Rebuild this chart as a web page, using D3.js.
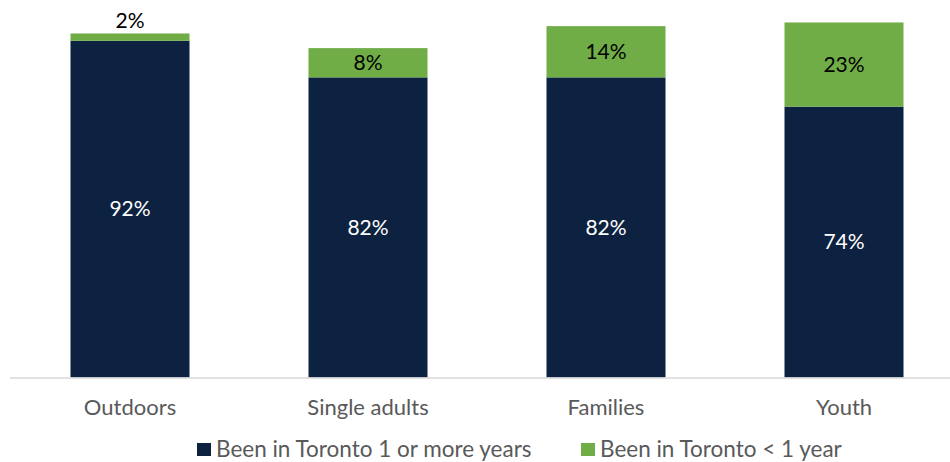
<!DOCTYPE html>
<html><head><meta charset="utf-8">
<script src="https://cdn.jsdelivr.net/npm/d3@7"></script>
<style>body{margin:0;background:#fff}svg{display:block}</style>
</head><body><svg id="c" width="950" height="462"></svg>
<script>
const categories = ["Outdoors", "Single adults", "Families", "Youth"];
const longTerm = [92, 82, 82, 74];
const shortTerm = [2, 8, 14, 23];
const seriesNames = ["Been in Toronto 1 or more years", "Been in Toronto < 1 year"];
const colors = ["#0D2240", "#70AD47"];

const svg = d3.select("#c");
const font = "Lato, 'Open Sans', sans-serif";
const x = d3.scaleBand().domain(categories).range([11, 963]).paddingInner(0.5).paddingOuter(0.25);
const y = d3.scaleLinear().domain([0, 100]).range([377.5, 11.5]);

const data = categories.map((c, i) => ({c, a: longTerm[i], b: shortTerm[i]}));

svg.selectAll("rect.a").data(data).join("rect")
  .attr("x", d => x(d.c)).attr("width", x.bandwidth())
  .attr("y", d => y(d.a)).attr("height", d => y(0) - y(d.a))
  .attr("fill", colors[0]);
svg.selectAll("rect.b").data(data).join("rect")
  .attr("x", d => x(d.c)).attr("width", x.bandwidth())
  .attr("y", d => y(d.a + d.b)).attr("height", d => y(d.a) - y(d.a + d.b))
  .attr("fill", colors[1]);

const axis = svg.append("g").attr("transform", `translate(0,${y(0)})`)
  .call(d3.axisBottom(x).tickSize(0).tickPadding(22));
axis.select(".domain").attr("stroke", "#D9D9D9").attr("stroke-width", 1.5).attr("d", "M10,0.5H950");
axis.selectAll("text").attr("font-family", font).attr("font-size", 22).attr("fill", "#595959");

svg.selectAll("text.la").data(data).join("text")
  .attr("x", d => x(d.c) + x.bandwidth() / 2)
  .attr("y", d => (y(0) + y(d.a)) / 2)
  .attr("dy", "0.35em").attr("text-anchor", "middle")
  .attr("font-family", font).attr("font-size", 21).attr("fill", "#fff")
  .text(d => d.a + "%");
svg.selectAll("text.lb").data(data).join("text")
  .attr("x", d => x(d.c) + x.bandwidth() / 2)
  .attr("y", d => (y(d.a) - y(d.a + d.b)) < 20 ? y(d.a + d.b) - 13 : (y(d.a) + y(d.a + d.b)) / 2)
  .attr("dy", "0.35em").attr("text-anchor", "middle")
  .attr("font-family", font).attr("font-size", 21).attr("fill", "#000")
  .text(d => d.b + "%");

const legX = [197, 581];
seriesNames.forEach((n, i) => {
  const g = svg.append("g").attr("transform", `translate(${legX[i]},449)`);
  g.append("rect").attr("x", 0).attr("y", -6).attr("width", 14).attr("height", 13).attr("fill", colors[i]);
  g.append("text").attr("x", 19).attr("y", 0).attr("dy", "0.35em")
    .attr("font-family", font).attr("font-size", 22.5).attr("fill", "#595959").text(n);
});
</script></body></html>
